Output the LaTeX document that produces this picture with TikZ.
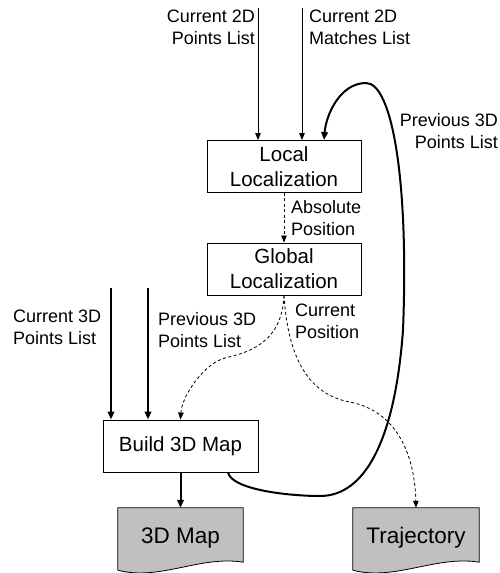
\documentclass[tikz,border=0pt]{standalone}
\usepackage{fontspec}
\setmainfont{Liberation Sans}
\usetikzlibrary{arrows.meta,positioning,calc}
\definecolor{docgray}{RGB}{192,192,192}

\tikzset{
  procbox/.style={draw,line width=0.9pt,minimum width=154pt,minimum height=52pt,
    align=center,inner sep=0pt,font=\fontsize{20.5}{25}\selectfont},
  docnode/.style={minimum width=125pt,minimum height=54pt,inner sep=0pt},
  doctext/.style={font=\fontsize{22.5}{26}\selectfont},
  lbl/.style={inner sep=0pt,font=\fontsize{18}{22}\selectfont},
  flow/.style={line width=0.8pt,-{Triangle[length=7pt,width=5.5pt]}},
  bigflow/.style={line width=2pt,-{Triangle[length=8pt,width=6.5pt]}},
  dflow/.style={flow,dash pattern=on 3pt off 2.5pt},
}

% document symbol with wavy bottom edge
\newcommand{\docshape}[1]{%
  \filldraw[fill=docgray,line width=0.8pt]
    ([yshift=-8pt]#1.south west) -- (#1.north west) -- (#1.north east)
    -- (#1.south east) .. controls +(-43,-7) and +(42,11) .. ([yshift=-8pt]#1.south west);
}

\begin{document}
\begin{tikzpicture}[x=1pt,y=-1pt]
    \useasboundingbox (0,0) rectangle (499,573);

    % processing boxes
    \node[procbox] (local) at (284,166.5) {Local\\Localization};
    \node[procbox] (global) at (284,269) {Global\\Localization};
    \node[procbox,minimum width=155pt] (build) at (180.5,446) {Build 3D Map};

    % outputs
    \node[docnode] (map) at (180.5,535) {};
    \docshape{map}
    \node[doctext] (maptext) at (180.5,538) {3D Map};
    \node[docnode,minimum width=126pt] (traj) at (416,535) {};
    \docshape{traj}
    \node[doctext] (trajtext) at (416,538) {Trajectory};

    % inputs
    \coordinate (pts2d) at (258,8);
    \coordinate (match2d) at (302,8);
    \coordinate (pts3d) at (111,288);
    \coordinate (prev3d) at (148,288);

    \draw[flow] (pts2d) -- (pts2d |- local.north);
    \draw[flow] (match2d) -- (match2d |- local.north);
    \draw[bigflow] (pts3d) -- (pts3d |- build.north);
    \draw[bigflow] (prev3d) -- (prev3d |- build.north);

    \node[lbl,anchor=north east,align=right] (lblpts2d) at (255,10) {Current 2D\\Points List};
    \node[lbl,anchor=north west,align=left] (lblmatch2d) at (309,10) {Current 2D\\Matches List};
    \node[lbl,anchor=north west,align=left] (lblpts3d) at (13,310) {Current 3D\\Points List};
    \node[lbl,anchor=north west,align=left] (lblprev3d) at (158,312) {Previous 3D\\Points List};

    % positions
    \draw[dflow] (local) -- (global);
    \node[lbl,anchor=north west,align=left] (lblabs) at (291,200) {Absolute\\Position};
    \draw[dflow] (global.south) .. controls (282,345) and (245,353) .. (225,358)
      .. controls (205,363) and (182,395) .. (build.north);
    \draw[dflow] (global.south) .. controls (288,360) and (310,395) .. (350,402)
      .. controls (400,412) and (415,460) .. (traj.north);
    \node[lbl,anchor=north west,align=left] (lblcur) at (295,304) {Current\\Position};

    % feedback of the map
    \draw[bigflow] ([xshift=47.5pt]build.south) .. controls (232,490) and (290,496) .. (320,496)
      .. controls (365,496) and (395,440) .. (403,330)
      .. controls (409,180) and (392,83) .. (366,83)
      .. controls (340,83) and (326,115) .. ([xshift=40pt]local.north);
    \node[lbl,anchor=north east,align=right] (lblfeed) at (498,113) {Previous 3D\\Points List};

    % map output
    \draw[bigflow] (build) -- (map);
\end{tikzpicture}
\end{document}
